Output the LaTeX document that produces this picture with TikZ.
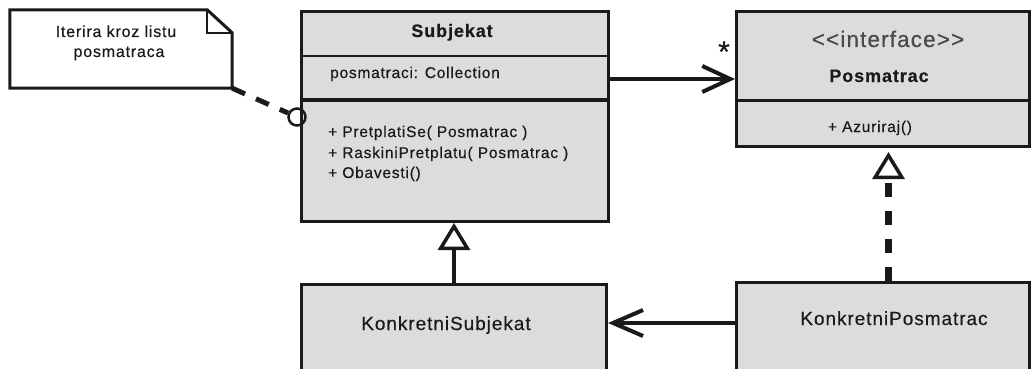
\documentclass[tikz,border=0pt]{standalone}
\usepackage{fontspec}
\setmainfont{Liberation Sans}[LetterSpace=5, FakeBold=0.4]
\usetikzlibrary{arrows.meta,calc}
\definecolor{boxfill}{HTML}{DCDCDE}
\definecolor{ink}{HTML}{1A1A1A}
\definecolor{stereo}{HTML}{4A4A4A}
\tikzset{
  classbox/.style={draw=ink, fill=boxfill, line width=3pt, rectangle,
    anchor=north west, inner sep=0pt},
  divider/.style={draw=ink, line width=3pt},
  lbl/.style={inner sep=0pt, anchor=base, text=ink},
  lbll/.style={lbl, anchor=base west},
  assoc/.style={draw=ink, line width=4.5pt,
    -{Straight Barb[length=28pt,width=26pt,line width=4pt]}},
  inherit/.style={draw=ink, line width=4pt,
    -{Triangle[length=27pt,width=32pt,fill=white,line width=3.5pt]}},
  realize/.style={inherit, line width=7pt, dash pattern=on 14pt off 14pt},
  notelink/.style={draw=ink, line width=5pt, dash pattern=on 14pt off 12pt},
}
\newcommand{\fs}[1]{\fontsize{#1}{#1}\selectfont}
\begin{document}
\begin{tikzpicture}[x=1pt,y=-1pt]
\useasboundingbox (0,0) rectangle (1031,369);
\clip (0,0) rectangle (1031,369);

% note
\node[minimum width=222pt, minimum height=78pt, inner sep=0pt] (note) at (121,49) {};
\draw[draw=ink, line width=3pt, fill=white, line join=miter]
  (note.north west) -- ([xshift=-25pt]note.north east)
  -- ([yshift=-23pt]note.north east) -- (note.south east)
  -- (note.south west) -- cycle;
\draw[draw=ink, line width=2pt]
  ([xshift=-25pt]note.north east) -- ([xshift=-25pt,yshift=-23pt]note.north east)
  -- ([yshift=-23pt]note.north east);
\node[lbl, font=\fs{16}] (note1) at (116,37) {Iterira kroz listu};
\node[lbl, font=\fs{16}] (note2) at (119,57) {posmatraca};

% Subjekat
\node[classbox, minimum width=307pt, minimum height=210pt] (subj) at (300,10) {};
\draw[divider, line width=2.6pt] ($(subj.north west)+(0,46)$) -- ($(subj.north east)+(0,46)$);
\draw[divider, line width=3.5pt] ($(subj.north west)+(0,90)$) -- ($(subj.north east)+(0,90)$);
\node[lbl, font=\bfseries\fs{18}] (subjname) at (452,37) {Subjekat};
\node[lbll, font=\fs{15.5}] (subjattr) at (330,78) {posmatraci: Collection};
\node[lbll, font=\fs{15.5}] (m1) at (328,137) {+ PretplatiSe( Posmatrac )};
\node[lbll, font=\fs{15.5}] (m2) at (328,158) {+ RaskiniPretplatu( Posmatrac )};
\node[lbll, font=\fs{15.5}] (m3) at (328,178) {+ Obavesti()};

% Posmatrac interface
\node[classbox, minimum width=293pt, minimum height=135pt] (intf) at (735,10) {};
\draw[divider] ($(intf.north west)+(0,90)$) -- ($(intf.north east)+(0,90)$);
\node[lbl, text=stereo, font=\fs{22.5}] (stereo) at (888,47) {<{}<interface>{}>};
\node[lbl, font=\bfseries\fs{18}] (intfname) at (879,82) {Posmatrac};
\node[lbl, font=\fs{15.5}] (azur) at (870,132) {+ Azuriraj()};

% concrete classes
\node[classbox, minimum width=305pt, minimum height=95pt] (ks) at (300,283) {};
\node[lbl, font=\fs{19}] (ksname) at (446,330) {KonkretniSubjekat};
\node[classbox, minimum width=293pt, minimum height=97pt] (kp) at (735,281) {};
\node[lbl, font=\fs{19}] (kpname) at (894,325) {KonkretniPosmatrac};

% note anchor circle
\node[circle, draw=ink, line width=2.5pt, minimum size=17pt, inner sep=0pt] (hole) at (297,117) {};
\draw[notelink] (note.south east) -- (hole);

% relations
\draw[assoc] (subj.east |- intf.west) -- (intf.west);
\node[text=ink, font=\fs{30}, inner sep=0pt, anchor=base] (mult) at (724,62) {*};
\draw[inherit] (ks.north) -- (ks.north |- subj.south);
\draw[realize, shorten >=4pt] ([xshift=5.5pt]kp.north) -- ([xshift=5.5pt]intf.south);
\draw[assoc, line width=4pt,
  -{Straight Barb[length=30pt,width=26pt,line width=4pt]}]
  ([yshift=8pt]kp.west) -- ([yshift=8pt]kp.west -| ks.east);
\end{tikzpicture}
\end{document}
